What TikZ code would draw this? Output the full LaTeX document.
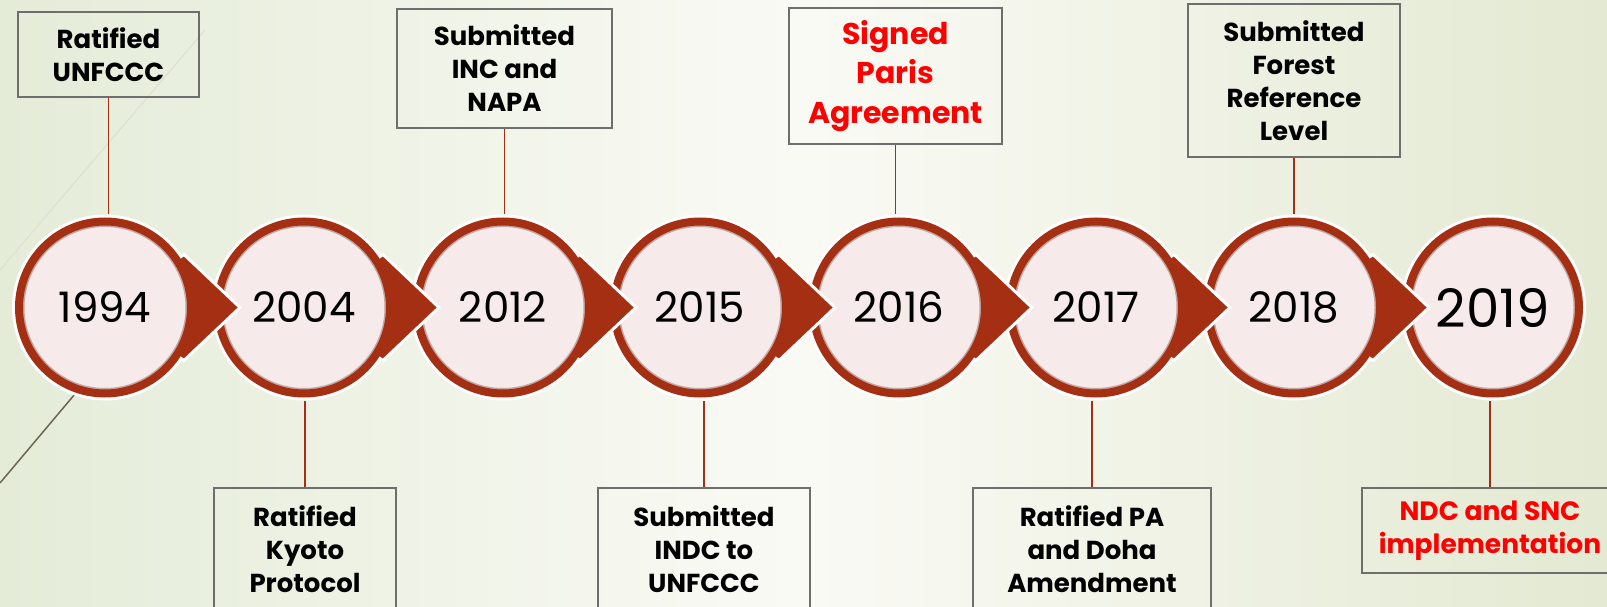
\documentclass[tikz,border=0pt]{standalone}
\usepackage{fontspec}
\setmainfont{Poppins}

\definecolor{ringred}{HTML}{A52F12}
\definecolor{ringdark}{HTML}{5E2A1C}
\definecolor{discfill}{HTML}{F7EAEA}
\definecolor{boxgray}{HTML}{6E6E6E}
\definecolor{bgleft}{HTML}{E4ECD8}
\definecolor{bgmid}{HTML}{FAFAF5}
\definecolor{bgright}{HTML}{E3E9D2}
\definecolor{wisp}{HTML}{6B6650}
\definecolor{wispfaint}{HTML}{DDE2D0}

\begin{document}
\begin{tikzpicture}[
    x = 1pt, y = 1pt, % one unit per pixel
    rim/.style = {circle, minimum size=172pt, inner sep=0pt, draw=white, line width=14pt},
    year/.style = {circle, minimum size=172pt, inner sep=0pt, fill=discfill,
        draw=ringred, line width=8pt, font=\fontsize{42}{42}\selectfont,
        path picture={\draw[ringdark, line width=3pt, opacity=0.35]
            (path picture bounding box.center) circle[radius=82pt];}},
    event/.style = {draw=boxgray, line width=1.3pt, align=center, inner sep=0pt,
        font=\bfseries\fontsize{26}{33}\selectfont},
    hot/.style = {text=red, font=\bfseries\fontsize{30}{39.5}\selectfont},
    link/.style = {draw=ringred, line width=1.8pt},
    chevron/.style = {fill=ringred, draw=white, line width=3pt, line join=miter}
]

\path[use as bounding box] (0,0) rectangle (1607,606);
\clip (0,0) rectangle (1607,606);

% Background
\shade[left color=bgleft, right color=bgright, middle color=bgmid] (0,0) rectangle (1607,606);
\draw[wispfaint, line width=1.2pt] (0,336) -- (205,576);
\draw[wisp, line width=1.5pt] (0,123) -- (75,212);

% Boxes
\node[event, minimum width=181pt, minimum height=85pt] (b1) at (108.5,551.5) {Ratified\\UNFCCC};
\node[event, minimum width=215pt, minimum height=119pt] (b2) at (504.5,537.5) {Submitted\\INC and\\NAPA};
\node[event, hot, minimum width=213pt, minimum height=136pt] (b3) at (895.5,530) {Signed\\Paris\\Agreement};
\node[event, minimum width=212pt, minimum height=153pt] (b4) at (1294,525.5) {Submitted\\Forest\\Reference\\Level};
\node[event, minimum width=182pt, minimum height=122pt] (b5) at (305,57) {Ratified\\Kyoto\\Protocol};
\node[event, minimum width=212pt, minimum height=122pt] (b6) at (704,57) {Submitted\\INDC to\\UNFCCC};
\node[event, minimum width=238pt, minimum height=122pt] (b7) at (1092,57) {Ratified PA\\and Doha\\Amendment};
\node[event, hot, font=\bfseries\fontsize{26.5}{33}\selectfont, minimum width=256pt, minimum height=85pt] (b8) at (1490,75.5) {NDC and SNC\\implementation};

% Years, right to left: white rim, then the chevron, then the disc over it
\node[rim] (r8) at (1493,298.5) {};
\node[year, font=\fontsize{53}{53}\selectfont] (c8) at (r8) {2019};
\node[rim] (r7) at (1294,298.5) {};
\path[chevron] (c8.center) ++(-64,0) -- ++(-56,53) -- ++(-78,-53) -- ++(78,-53) -- cycle;
\node[year] (c7) at (r7) {2018};
\node[rim] (r6) at (1096,298.5) {};
\path[chevron] (c7.center) ++(-64,0) -- ++(-56,53) -- ++(-78,-53) -- ++(78,-53) -- cycle;
\node[year] (c6) at (r6) {2017};
\node[rim] (r5) at (899,298.5) {};
\path[chevron] (c6.center) ++(-64,0) -- ++(-56,53) -- ++(-78,-53) -- ++(78,-53) -- cycle;
\node[year] (c5) at (r5) {2016};
\node[rim] (r4) at (700,298.5) {};
\path[chevron] (c5.center) ++(-64,0) -- ++(-56,53) -- ++(-78,-53) -- ++(78,-53) -- cycle;
\node[year] (c4) at (r4) {2015};
\node[rim] (r3) at (503,298.5) {};
\path[chevron] (c4.center) ++(-64,0) -- ++(-56,53) -- ++(-78,-53) -- ++(78,-53) -- cycle;
\node[year] (c3) at (r3) {2012};
\node[rim] (r2) at (304,298.5) {};
\path[chevron] (c3.center) ++(-64,0) -- ++(-56,53) -- ++(-78,-53) -- ++(78,-53) -- cycle;
\node[year] (c2) at (r2) {2004};
\node[rim] (r1) at (105,298.5) {};
\path[chevron] (c2.center) ++(-64,0) -- ++(-56,53) -- ++(-78,-53) -- ++(78,-53) -- cycle;
\node[year] (c1) at (r1) {1994};

% Edges
\draw[link] (b1.south) -- (b1.south |- r1.north);
\draw[link] (b2.south) -- (b2.south |- r3.north);
\draw[link] (b3.south) -- (b3.south |- r5.north);
\draw[link] (b4.south) -- (b4.south |- r7.north);
\draw[link] (b5.north) -- (b5.north |- r2.south);
\draw[link] (b6.north) -- (b6.north |- r4.south);
\draw[link] (b7.north) -- (b7.north |- r6.south);
\draw[link] (b8.north) -- (b8.north |- r8.south);

\end{tikzpicture}
\end{document}
